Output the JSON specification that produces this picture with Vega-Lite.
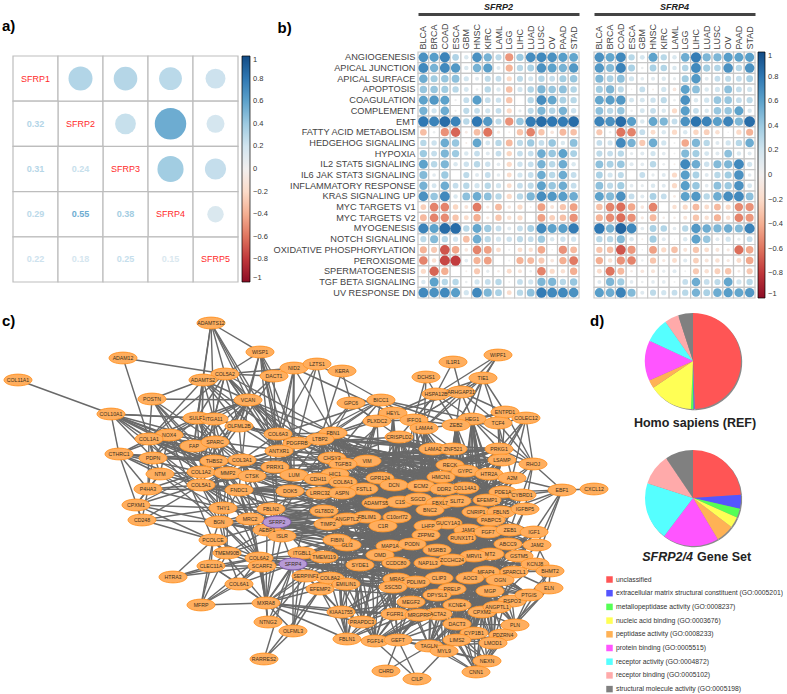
{"$schema":"https://vega.github.io/schema/vega-lite/v6.json","background":"white","padding":{"left":2,"top":3,"right":0,"bottom":0},"bounds":"flush","align":"none","columns":3,"spacing":{"row":13,"column":15},"resolve":{"scale":{"color":"independent","size":"independent"},"legend":{"color":"independent","size":"independent"}},"config":{"font":"Liberation Sans","view":{"stroke":null},"title":{"font":"Liberation Sans"}},
"datasets":{
"corr":[{"row":"SFRP1","col":"SFRP1","part":"diag"},{"row":"SFRP2","col":"SFRP2","part":"diag"},{"row":"SFRP3","col":"SFRP3","part":"diag"},{"row":"SFRP4","col":"SFRP4","part":"diag"},{"row":"SFRP5","col":"SFRP5","part":"diag"},
{"row":"SFRP1","col":"SFRP2","part":"upper","r":0.32},{"row":"SFRP1","col":"SFRP3","part":"upper","r":0.31},{"row":"SFRP1","col":"SFRP4","part":"upper","r":0.29},{"row":"SFRP1","col":"SFRP5","part":"upper","r":0.22},{"row":"SFRP2","col":"SFRP3","part":"upper","r":0.24},{"row":"SFRP2","col":"SFRP4","part":"upper","r":0.55},{"row":"SFRP2","col":"SFRP5","part":"upper","r":0.18},{"row":"SFRP3","col":"SFRP4","part":"upper","r":0.38},{"row":"SFRP3","col":"SFRP5","part":"upper","r":0.25},{"row":"SFRP4","col":"SFRP5","part":"upper","r":0.15},
{"row":"SFRP2","col":"SFRP1","part":"lower","r":0.32},{"row":"SFRP3","col":"SFRP1","part":"lower","r":0.31},{"row":"SFRP4","col":"SFRP1","part":"lower","r":0.29},{"row":"SFRP5","col":"SFRP1","part":"lower","r":0.22},{"row":"SFRP3","col":"SFRP2","part":"lower","r":0.24},{"row":"SFRP4","col":"SFRP2","part":"lower","r":0.55},{"row":"SFRP5","col":"SFRP2","part":"lower","r":0.18},{"row":"SFRP4","col":"SFRP3","part":"lower","r":0.38},{"row":"SFRP5","col":"SFRP3","part":"lower","r":0.25},{"row":"SFRP5","col":"SFRP4","part":"lower","r":0.15}],
"paths":[
{"gene":"SFRP2","p":"ANGIOGENESIS","BLCA":0.68,"BRCA":0.62,"COAD":0.75,"ESCA":0.33,"GBM":0.15,"HNSC":0.68,"KIRC":0.52,"LAML":0.28,"LGG":-0.48,"LIHC":0.4,"LUAD":0.7,"LUSC":0.72,"OV":0.68,"PAAD":0.62,"STAD":0.58},
{"gene":"SFRP2","p":"APICAL JUNCTION","BLCA":0.72,"BRCA":0.52,"COAD":0.72,"ESCA":0.65,"GBM":0.15,"HNSC":0.52,"KIRC":0.62,"LAML":0.12,"LGG":-0.38,"LIHC":0.3,"LUAD":0.35,"LUSC":0.68,"OV":0.6,"PAAD":0.52,"STAD":0.65},
{"gene":"SFRP2","p":"APICAL SURFACE","BLCA":0.55,"BRCA":0.38,"COAD":0.42,"ESCA":0.45,"GBM":0.2,"HNSC":0.12,"KIRC":0.28,"LAML":0.25,"LGG":-0.2,"LIHC":0.28,"LUAD":0.2,"LUSC":0.32,"OV":0.25,"PAAD":0.38,"STAD":0.42},
{"gene":"SFRP2","p":"APOPTOSIS","BLCA":0.42,"BRCA":0.42,"COAD":0.38,"ESCA":0.3,"GBM":0.18,"HNSC":0.05,"KIRC":0.3,"LAML":0.15,"LGG":-0.32,"LIHC":0.2,"LUAD":0.32,"LUSC":0.5,"OV":0.42,"PAAD":0.45,"STAD":0.32},
{"gene":"SFRP2","p":"COAGULATION","BLCA":0.6,"BRCA":0.65,"COAD":0.6,"ESCA":0.04,"GBM":0.25,"HNSC":0.62,"KIRC":0.25,"LAML":0.22,"LGG":-0.3,"LIHC":0,"LUAD":0.3,"LUSC":0.7,"OV":0.58,"PAAD":0.35,"STAD":0.3},
{"gene":"SFRP2","p":"COMPLEMENT","BLCA":0.52,"BRCA":0.2,"COAD":0.55,"ESCA":0.04,"GBM":0.28,"HNSC":0.25,"KIRC":0.2,"LAML":0.25,"LGG":-0.2,"LIHC":0.08,"LUAD":0.28,"LUSC":0.5,"OV":0.32,"PAAD":0.52,"STAD":0.22},
{"gene":"SFRP2","p":"EMT","BLCA":0.8,"BRCA":0.75,"COAD":0.85,"ESCA":0.75,"GBM":0.3,"HNSC":0.8,"KIRC":0.65,"LAML":0.28,"LGG":-0.5,"LIHC":0.42,"LUAD":0.78,"LUSC":0.85,"OV":0.8,"PAAD":0.78,"STAD":0.85},
{"gene":"SFRP2","p":"FATTY ACID METABOLISM","BLCA":-0.33,"BRCA":0.05,"COAD":-0.5,"ESCA":-0.65,"GBM":-0.06,"HNSC":-0.33,"KIRC":-0.6,"LAML":-0.08,"LGG":-0.03,"LIHC":-0.3,"LUAD":-0.55,"LUSC":-0.3,"OV":-0.1,"PAAD":-0.35,"STAD":-0.32},
{"gene":"SFRP2","p":"HEDGEHOG SIGNALING","BLCA":0.3,"BRCA":0.22,"COAD":0.55,"ESCA":0.42,"GBM":-0.03,"HNSC":0.58,"KIRC":0.18,"LAML":0.3,"LGG":-0.35,"LIHC":0.28,"LUAD":0.4,"LUSC":0.25,"OV":0.42,"PAAD":0.15,"STAD":0.45},
{"gene":"SFRP2","p":"HYPOXIA","BLCA":0.4,"BRCA":0.25,"COAD":0.5,"ESCA":0.4,"GBM":0.15,"HNSC":0.25,"KIRC":0.12,"LAML":0.25,"LGG":-0.22,"LIHC":0.25,"LUAD":0.25,"LUSC":0.55,"OV":0.42,"PAAD":0.6,"STAD":0.35},
{"gene":"SFRP2","p":"IL2 STAT5 SIGNALING","BLCA":0.6,"BRCA":0.3,"COAD":0.5,"ESCA":0.15,"GBM":0.22,"HNSC":0.3,"KIRC":0.22,"LAML":0.1,"LGG":-0.2,"LIHC":0.22,"LUAD":0.25,"LUSC":0.52,"OV":0.3,"PAAD":0.55,"STAD":0.15},
{"gene":"SFRP2","p":"IL6 JAK STAT3 SIGNALING","BLCA":0.48,"BRCA":0.1,"COAD":0.4,"ESCA":0,"GBM":0.28,"HNSC":0.12,"KIRC":0.25,"LAML":0.1,"LGG":-0.18,"LIHC":0.2,"LUAD":0.25,"LUSC":0.55,"OV":0.3,"PAAD":0.55,"STAD":0.25},
{"gene":"SFRP2","p":"INFLAMMATORY RESPONSE","BLCA":0.52,"BRCA":0.18,"COAD":0.55,"ESCA":0.25,"GBM":0.3,"HNSC":0.2,"KIRC":0.3,"LAML":0.2,"LGG":-0.18,"LIHC":0.25,"LUAD":0.28,"LUSC":0.6,"OV":0.42,"PAAD":0.55,"STAD":0.25},
{"gene":"SFRP2","p":"KRAS SIGNALING UP","BLCA":0.68,"BRCA":0.42,"COAD":0.72,"ESCA":0.15,"GBM":0.45,"HNSC":0.55,"KIRC":0.45,"LAML":0.3,"LGG":-0.2,"LIHC":0.3,"LUAD":0.5,"LUSC":0.7,"OV":0.65,"PAAD":0.62,"STAD":0.55},
{"gene":"SFRP2","p":"MYC TARGETS V1","BLCA":-0.25,"BRCA":-0.55,"COAD":-0.55,"ESCA":-0.22,"GBM":-0.12,"HNSC":-0.58,"KIRC":-0.08,"LAML":-0.35,"LGG":-0.1,"LIHC":-0.2,"LUAD":-0.03,"LUSC":-0.45,"OV":-0.12,"PAAD":-0.3,"STAD":-0.45},
{"gene":"SFRP2","p":"MYC TARGETS V2","BLCA":-0.35,"BRCA":-0.55,"COAD":-0.52,"ESCA":-0.3,"GBM":-0.18,"HNSC":-0.4,"KIRC":-0.08,"LAML":-0.3,"LGG":-0.15,"LIHC":-0.2,"LUAD":0,"LUSC":-0.45,"OV":-0.25,"PAAD":-0.32,"STAD":-0.5},
{"gene":"SFRP2","p":"MYOGENESIS","BLCA":0.75,"BRCA":0.6,"COAD":0.85,"ESCA":0.85,"GBM":0.3,"HNSC":0.58,"KIRC":0.4,"LAML":0.25,"LGG":0.12,"LIHC":0.25,"LUAD":0.35,"LUSC":0.72,"OV":0.6,"PAAD":0.62,"STAD":0.78},
{"gene":"SFRP2","p":"NOTCH SIGNALING","BLCA":0.28,"BRCA":0.48,"COAD":0.3,"ESCA":0.2,"GBM":-0.33,"HNSC":0.55,"KIRC":0.3,"LAML":0.2,"LGG":0.22,"LIHC":0.28,"LUAD":0.25,"LUSC":0.4,"OV":0.15,"PAAD":0.22,"STAD":0.2},
{"gene":"SFRP2","p":"OXIDATIVE PHOSPHORYLATION","BLCA":-0.38,"BRCA":-0.28,"COAD":-0.7,"ESCA":-0.42,"GBM":-0.1,"HNSC":-0.55,"KIRC":-0.45,"LAML":-0.18,"LGG":0.04,"LIHC":-0.18,"LUAD":-0.15,"LUSC":-0.42,"OV":-0.02,"PAAD":-0.5,"STAD":-0.35},
{"gene":"SFRP2","p":"PEROXISOME","BLCA":-0.55,"BRCA":-0.15,"COAD":-0.75,"ESCA":-0.78,"GBM":0.1,"HNSC":-0.38,"KIRC":-0.45,"LAML":0,"LGG":0.03,"LIHC":-0.38,"LUAD":-0.35,"LUSC":-0.28,"OV":-0.1,"PAAD":-0.4,"STAD":-0.58},
{"gene":"SFRP2","p":"SPERMATOGENESIS","BLCA":-0.2,"BRCA":-0.65,"COAD":-0.4,"ESCA":0,"GBM":-0.03,"HNSC":-0.28,"KIRC":0.08,"LAML":-0.05,"LGG":-0.18,"LIHC":-0.12,"LUAD":0.05,"LUSC":-0.55,"OV":-0.2,"PAAD":-0.15,"STAD":-0.4},
{"gene":"SFRP2","p":"TGF BETA SIGNALING","BLCA":0.15,"BRCA":0.6,"COAD":0.3,"ESCA":0.3,"GBM":0.05,"HNSC":0.2,"KIRC":0.25,"LAML":0.3,"LGG":0.03,"LIHC":0.25,"LUAD":0.2,"LUSC":0.5,"OV":0.5,"PAAD":0.3,"STAD":0.42},
{"gene":"SFRP2","p":"UV RESPONSE DN","BLCA":0.72,"BRCA":0.68,"COAD":0.72,"ESCA":0.62,"GBM":0.2,"HNSC":0.72,"KIRC":0.5,"LAML":0.35,"LGG":-0.18,"LIHC":0.3,"LUAD":0.45,"LUSC":0.78,"OV":0.72,"PAAD":0.72,"STAD":0.68},
{"gene":"SFRP4","p":"ANGIOGENESIS","BLCA":0.68,"BRCA":0.58,"COAD":0.72,"ESCA":0.3,"GBM":0.18,"HNSC":0.6,"KIRC":0.3,"LAML":0.15,"LGG":0.55,"LIHC":0.78,"LUAD":0.5,"LUSC":0.5,"OV":0.62,"PAAD":0.6,"STAD":0.62},
{"gene":"SFRP4","p":"APICAL JUNCTION","BLCA":0.65,"BRCA":0.48,"COAD":0.75,"ESCA":0.35,"GBM":0.05,"HNSC":0.35,"KIRC":0.32,"LAML":0.15,"LGG":0.32,"LIHC":0.72,"LUAD":0.38,"LUSC":0.32,"OV":0.68,"PAAD":0.3,"STAD":0.68},
{"gene":"SFRP4","p":"APICAL SURFACE","BLCA":0.5,"BRCA":0.35,"COAD":0.45,"ESCA":0.2,"GBM":0.1,"HNSC":0.12,"KIRC":0.15,"LAML":0.08,"LGG":0.38,"LIHC":0.65,"LUAD":0.12,"LUSC":0.25,"OV":0.28,"PAAD":0.25,"STAD":0.35},
{"gene":"SFRP4","p":"APOPTOSIS","BLCA":0.38,"BRCA":0.5,"COAD":0.28,"ESCA":0.02,"GBM":0.25,"HNSC":-0.03,"KIRC":0.2,"LAML":-0.1,"LGG":0.6,"LIHC":0.45,"LUAD":0.15,"LUSC":0.2,"OV":0.45,"PAAD":0.25,"STAD":0.2},
{"gene":"SFRP4","p":"COAGULATION","BLCA":0.58,"BRCA":0.62,"COAD":0.65,"ESCA":0.18,"GBM":0.18,"HNSC":0.22,"KIRC":0.28,"LAML":0.05,"LGG":0.68,"LIHC":0.15,"LUAD":0.2,"LUSC":0.42,"OV":0.42,"PAAD":0.25,"STAD":0.28},
{"gene":"SFRP4","p":"COMPLEMENT","BLCA":0.45,"BRCA":0.3,"COAD":0.42,"ESCA":0.05,"GBM":0.18,"HNSC":0.25,"KIRC":0.15,"LAML":-0.2,"LGG":0.62,"LIHC":0.25,"LUAD":0.15,"LUSC":0.42,"OV":0.42,"PAAD":0.6,"STAD":0.15},
{"gene":"SFRP4","p":"EMT","BLCA":0.75,"BRCA":0.68,"COAD":0.85,"ESCA":0.62,"GBM":0.15,"HNSC":0.58,"KIRC":0.5,"LAML":0.25,"LGG":0.68,"LIHC":0.82,"LUAD":0.75,"LUSC":0.62,"OV":0.75,"PAAD":0.5,"STAD":0.85},
{"gene":"SFRP4","p":"FATTY ACID METABOLISM","BLCA":-0.28,"BRCA":0.05,"COAD":-0.6,"ESCA":-0.55,"GBM":0.25,"HNSC":-0.18,"KIRC":0.15,"LAML":-0.2,"LGG":0.15,"LIHC":-0.22,"LUAD":-0.25,"LUSC":-0.15,"OV":0.02,"PAAD":-0.2,"STAD":-0.38},
{"gene":"SFRP4","p":"HEDGEHOG SIGNALING","BLCA":0.25,"BRCA":0.2,"COAD":0.72,"ESCA":0.52,"GBM":-0.28,"HNSC":0.55,"KIRC":0.2,"LAML":0.03,"LGG":-0.42,"LIHC":0.5,"LUAD":0.3,"LUSC":0.12,"OV":0.2,"PAAD":0.3,"STAD":0.55},
{"gene":"SFRP4","p":"HYPOXIA","BLCA":0.28,"BRCA":0.25,"COAD":0.3,"ESCA":0.08,"GBM":0.12,"HNSC":0.2,"KIRC":0.1,"LAML":0.03,"LGG":0.48,"LIHC":0.38,"LUAD":0.18,"LUSC":0.12,"OV":0.45,"PAAD":0.15,"STAD":0.12},
{"gene":"SFRP4","p":"IL2 STAT5 SIGNALING","BLCA":0.45,"BRCA":0.35,"COAD":0.42,"ESCA":0.12,"GBM":0.1,"HNSC":0.3,"KIRC":0.06,"LAML":-0.03,"LGG":0.72,"LIHC":0.55,"LUAD":0.22,"LUSC":0.48,"OV":0.5,"PAAD":0.72,"STAD":0.2},
{"gene":"SFRP4","p":"IL6 JAK STAT3 SIGNALING","BLCA":0.35,"BRCA":0.2,"COAD":0.28,"ESCA":0,"GBM":0.25,"HNSC":0.08,"KIRC":0.12,"LAML":-0.2,"LGG":0.62,"LIHC":0.35,"LUAD":0.12,"LUSC":0.3,"OV":0.38,"PAAD":0.68,"STAD":0.1},
{"gene":"SFRP4","p":"INFLAMMATORY RESPONSE","BLCA":0.45,"BRCA":0.28,"COAD":0.38,"ESCA":0.1,"GBM":0.08,"HNSC":0.15,"KIRC":0.12,"LAML":-0.2,"LGG":0.62,"LIHC":0.42,"LUAD":0.1,"LUSC":0.45,"OV":0.4,"PAAD":0.68,"STAD":0.18},
{"gene":"SFRP4","p":"KRAS SIGNALING UP","BLCA":0.6,"BRCA":0.48,"COAD":0.68,"ESCA":0.25,"GBM":0.12,"HNSC":0.35,"KIRC":0.25,"LAML":-0.06,"LGG":0.6,"LIHC":0.65,"LUAD":0.3,"LUSC":0.55,"OV":0.7,"PAAD":0.72,"STAD":0.45},
{"gene":"SFRP4","p":"MYC TARGETS V1","BLCA":-0.32,"BRCA":-0.55,"COAD":-0.62,"ESCA":-0.42,"GBM":-0.1,"HNSC":-0.55,"KIRC":0,"LAML":-0.15,"LGG":-0.2,"LIHC":-0.35,"LUAD":-0.18,"LUSC":-0.35,"OV":-0.2,"PAAD":-0.52,"STAD":-0.5},
{"gene":"SFRP4","p":"MYC TARGETS V2","BLCA":-0.38,"BRCA":-0.52,"COAD":-0.62,"ESCA":-0.5,"GBM":-0.08,"HNSC":-0.35,"KIRC":-0.05,"LAML":-0.05,"LGG":-0.12,"LIHC":-0.3,"LUAD":-0.15,"LUSC":-0.38,"OV":-0.15,"PAAD":-0.55,"STAD":-0.48},
{"gene":"SFRP4","p":"MYOGENESIS","BLCA":0.8,"BRCA":0.52,"COAD":0.88,"ESCA":0.72,"GBM":0.1,"HNSC":0.35,"KIRC":0.32,"LAML":0.1,"LGG":0.3,"LIHC":0.65,"LUAD":0.55,"LUSC":0.5,"OV":0.55,"PAAD":0.48,"STAD":0.75},
{"gene":"SFRP4","p":"NOTCH SIGNALING","BLCA":0.3,"BRCA":0.3,"COAD":0.48,"ESCA":0.15,"GBM":-0.03,"HNSC":0.38,"KIRC":0.12,"LAML":0.02,"LGG":0.15,"LIHC":0.6,"LUAD":0.42,"LUSC":0.12,"OV":0.2,"PAAD":0.08,"STAD":0.25},
{"gene":"SFRP4","p":"OXIDATIVE PHOSPHORYLATION","BLCA":-0.3,"BRCA":-0.32,"COAD":-0.7,"ESCA":-0.48,"GBM":0.02,"HNSC":-0.45,"KIRC":-0.2,"LAML":-0.32,"LGG":-0.12,"LIHC":-0.3,"LUAD":-0.18,"LUSC":-0.12,"OV":-0.08,"PAAD":-0.62,"STAD":-0.42},
{"gene":"SFRP4","p":"PEROXISOME","BLCA":-0.4,"BRCA":-0.15,"COAD":-0.5,"ESCA":-0.55,"GBM":0.05,"HNSC":-0.3,"KIRC":-0.08,"LAML":-0.18,"LGG":0.12,"LIHC":-0.25,"LUAD":-0.12,"LUSC":-0.15,"OV":-0.08,"PAAD":-0.18,"STAD":-0.42},
{"gene":"SFRP4","p":"SPERMATOGENESIS","BLCA":-0.18,"BRCA":-0.6,"COAD":-0.35,"ESCA":-0.05,"GBM":-0.1,"HNSC":-0.12,"KIRC":0.08,"LAML":0.12,"LGG":0.03,"LIHC":-0.28,"LUAD":-0.15,"LUSC":-0.25,"OV":-0.3,"PAAD":-0.06,"STAD":-0.28},
{"gene":"SFRP4","p":"TGF BETA SIGNALING","BLCA":0.12,"BRCA":0.5,"COAD":0.38,"ESCA":0.1,"GBM":0.05,"HNSC":0.1,"KIRC":0.1,"LAML":0.03,"LGG":0.25,"LIHC":0.55,"LUAD":0.25,"LUSC":0.28,"OV":0.58,"PAAD":0.2,"STAD":0.3},
{"gene":"SFRP4","p":"UV RESPONSE DN","BLCA":0.62,"BRCA":0.55,"COAD":0.75,"ESCA":0.48,"GBM":0.12,"HNSC":0.28,"KIRC":0.2,"LAML":0.25,"LGG":0.3,"LIHC":0.52,"LUAD":0.35,"LUSC":0.55,"OV":0.62,"PAAD":0.58,"STAD":0.65}],
"nodes":[{"id":"ADAMTS12","x":211,"y":322},{"id":"WISP1","x":260,"y":351},{"id":"ADAM12","x":123,"y":357},{"id":"COL11A1","x":18,"y":379},{"id":"COL5A2","x":225,"y":373},{"id":"NID2","x":294,"y":367},{"id":"DACT1","x":274,"y":375},{"id":"ADAMTS2","x":203,"y":379},{"id":"VCAN","x":248,"y":399},{"id":"POSTN","x":152,"y":398},{"id":"COL10A1","x":111,"y":413},{"id":"SULF1","x":197,"y":417},{"id":"ITGA11","x":214,"y":418},{"id":"OLFML2B","x":239,"y":425},{"id":"COL6A3","x":278,"y":433},{"id":"NOX4","x":169,"y":434},{"id":"COL1A1","x":149,"y":438},{"id":"FAP","x":194,"y":445},{"id":"SPARC","x":215,"y":441},{"id":"PDGFRB","x":297,"y":442},{"id":"ANTXR1","x":279,"y":450},{"id":"CTHRC1","x":119,"y":453},{"id":"PDPN","x":153,"y":457},{"id":"THBS2","x":214,"y":460},{"id":"COL3A1","x":242,"y":459},{"id":"PRRX1","x":275,"y":466},{"id":"NTM","x":160,"y":473},{"id":"COL1A2","x":201,"y":471},{"id":"MMP2","x":228,"y":472},{"id":"CTSK","x":252,"y":475},{"id":"LUM","x":294,"y":474},{"id":"COL5A1","x":201,"y":484},{"id":"P4HA3","x":148,"y":488},{"id":"FNDC1","x":239,"y":489},{"id":"DOK5","x":290,"y":490},{"id":"CPXM1","x":136,"y":504},{"id":"CD248","x":142,"y":519},{"id":"THY1","x":223,"y":507},{"id":"FBLN2","x":271,"y":508},{"id":"MRC2","x":250,"y":518},{"id":"BGN","x":219,"y":521},{"id":"AEBP1","x":267,"y":529},{"id":"ISLR","x":282,"y":535},{"id":"SFRP2","x":277,"y":521},{"id":"PCOLCE","x":213,"y":539},{"id":"TMEM90B","x":227,"y":552},{"id":"ITGBL1","x":302,"y":552},{"id":"COL6A2","x":259,"y":557},{"id":"SCARF2","x":262,"y":565},{"id":"CLEC11A","x":211,"y":565},{"id":"SFRP4","x":293,"y":563},{"id":"HTRA3","x":173,"y":576},{"id":"COL6A1","x":239,"y":583},{"id":"MXRA8","x":266,"y":602},{"id":"MFRP","x":201,"y":604},{"id":"NTNG2","x":268,"y":621},{"id":"OLFML3","x":293,"y":630},{"id":"RARRES2","x":264,"y":658},{"id":"IL1R1","x":453,"y":361},{"id":"WIPF1","x":498,"y":354},{"id":"LZTS1","x":317,"y":363},{"id":"KERA","x":342,"y":370},{"id":"DCHS1","x":426,"y":376},{"id":"TIE1","x":483,"y":377},{"id":"HSPA12B","x":436,"y":393},{"id":"ARHGAP31","x":461,"y":391},{"id":"GPC6","x":351,"y":402},{"id":"BICC1","x":381,"y":399},{"id":"HEYL","x":393,"y":412},{"id":"ENTPD1","x":505,"y":411},{"id":"COLEC12","x":526,"y":417},{"id":"PLXDC2","x":377,"y":420},{"id":"IFFO1","x":414,"y":419},{"id":"HEG1","x":472,"y":418},{"id":"TCF4","x":498,"y":422},{"id":"ZEB2","x":456,"y":424},{"id":"LAMA4","x":424,"y":427},{"id":"FBN1","x":333,"y":432},{"id":"CRISPLD2","x":399,"y":436},{"id":"LTBP2","x":320,"y":438},{"id":"LAMA2","x":433,"y":448},{"id":"ZNF521","x":453,"y":448},{"id":"PRKG1","x":499,"y":448},{"id":"CHSY3","x":332,"y":457},{"id":"LSAMP","x":502,"y":459},{"id":"VIM","x":367,"y":460},{"id":"RHOJ","x":533,"y":463},{"id":"TGFB3","x":343,"y":463},{"id":"RECK","x":450,"y":464},{"id":"GYPC","x":465,"y":470},{"id":"HTR2A","x":489,"y":473},{"id":"HIC1","x":335,"y":473},{"id":"CDH11","x":318,"y":478},{"id":"GPR124","x":380,"y":477},{"id":"HMCN1","x":441,"y":476},{"id":"A2M","x":512,"y":477},{"id":"COL8A1","x":343,"y":481},{"id":"EBF1","x":562,"y":489},{"id":"CXCL12","x":594,"y":488},{"id":"DCN","x":394,"y":484},{"id":"ECM2","x":421,"y":485},{"id":"COL14A1","x":465,"y":487},{"id":"DDR2","x":444,"y":488},{"id":"FSTL1","x":364,"y":488},{"id":"LRRC32","x":320,"y":492},{"id":"ASPN","x":342,"y":492},{"id":"PDE1A","x":503,"y":491},{"id":"CYBRD1","x":522,"y":494},{"id":"ADAMTS5","x":376,"y":502},{"id":"C1S","x":400,"y":501},{"id":"SGCD","x":418,"y":498},{"id":"FBXL7","x":440,"y":502},{"id":"SLIT2","x":457,"y":500},{"id":"BNC2","x":430,"y":509},{"id":"EFEMP1","x":487,"y":499},{"id":"GLT8D2","x":324,"y":510},{"id":"FBLIM1","x":367,"y":516},{"id":"ANGPTL2","x":347,"y":518},{"id":"C10orf72","x":397,"y":516},{"id":"CNRIP1","x":476,"y":511},{"id":"FBLN5","x":501,"y":511},{"id":"IGFBP5","x":525,"y":508},{"id":"PABPC5","x":491,"y":519},{"id":"TIMP2","x":328,"y":523},{"id":"C1R","x":383,"y":525},{"id":"GUCY1A3","x":448,"y":522},{"id":"LHFP","x":428,"y":525},{"id":"JAM3","x":468,"y":529},{"id":"FGF7","x":488,"y":531},{"id":"ZEB1","x":510,"y":529},{"id":"IGF1","x":534,"y":531},{"id":"ZFPM2","x":426,"y":534},{"id":"RUNX1T1","x":462,"y":537},{"id":"GLI3","x":347,"y":544},{"id":"FIBIN","x":337,"y":539},{"id":"ABCC9","x":508,"y":543},{"id":"JAM2","x":537,"y":544},{"id":"MAP1A","x":390,"y":545},{"id":"PODN","x":412,"y":543},{"id":"MSRB3","x":437,"y":549},{"id":"TMEM119","x":324,"y":556},{"id":"OMD","x":380,"y":554},{"id":"MT2","x":490,"y":553},{"id":"MRVI1","x":474,"y":555},{"id":"GSTM5","x":519,"y":555},{"id":"KCNJ8","x":535,"y":563},{"id":"ZCCHC24","x":452,"y":559},{"id":"NAP1L3","x":428,"y":562},{"id":"CCDC80","x":396,"y":562},{"id":"SYDE1","x":360,"y":564},{"id":"MFAP4","x":486,"y":571},{"id":"SPARCL1","x":514,"y":571},{"id":"BHMT2","x":550,"y":570},{"id":"SERPINF1","x":306,"y":575},{"id":"COL8A2","x":330,"y":577},{"id":"MRAS","x":397,"y":578},{"id":"CLIP3","x":439,"y":577},{"id":"AOC3","x":470,"y":577},{"id":"OGN","x":500,"y":579},{"id":"PDLIM3","x":416,"y":581},{"id":"EMILIN1","x":346,"y":583},{"id":"ELN","x":549,"y":587},{"id":"SSC5D","x":393,"y":586},{"id":"EFEMP2","x":320,"y":588},{"id":"PRELP","x":452,"y":588},{"id":"MGP","x":490,"y":590},{"id":"DPYSL3","x":437,"y":594},{"id":"RSPO3","x":512,"y":600},{"id":"PTGIS","x":529,"y":594},{"id":"MEGF2","x":411,"y":601},{"id":"KCNE4","x":457,"y":604},{"id":"CPXM2","x":482,"y":611},{"id":"ANGPTL1","x":497,"y":606},{"id":"KIAA1755","x":341,"y":611},{"id":"FGFR1","x":395,"y":613},{"id":"ACTA2","x":438,"y":613},{"id":"MRGPRF","x":419,"y":614},{"id":"PRAPDC3","x":362,"y":621},{"id":"DACT3","x":457,"y":623},{"id":"PLN","x":515,"y":624},{"id":"CYP1B1","x":474,"y":632},{"id":"PDZRN4","x":503,"y":634},{"id":"FBLN1","x":347,"y":638},{"id":"FGF14","x":375,"y":640},{"id":"GEFT","x":398,"y":639},{"id":"LIMS2","x":457,"y":639},{"id":"LMOD1","x":493,"y":642},{"id":"TAGLN","x":429,"y":645},{"id":"MYL9","x":444,"y":650},{"id":"NEXN","x":487,"y":660},{"id":"CNN1","x":476,"y":671},{"id":"CHRD","x":386,"y":670},{"id":"CILP","x":417,"y":678}],
"edges":[
{"s":"COL11A1","t":["COL10A1"]},
{"s":"COL10A1","t":["SULF1","ITGA11","FAP","NOX4","COL1A1","COL1A2","SPARC","THBS2","CTHRC1","COL5A1","PDPN","MMP2"]},
{"s":"ADAM12","t":["COL5A2","COL1A1"]},
{"s":"ADAMTS12","t":["COL5A2","WISP1","SULF1","ITGA11","VCAN","COL6A3","ADAMTS2","LUM"]},
{"s":"WISP1","t":["COL5A2","DACT1","VCAN","OLFML2B","COL6A3","ANTXR1","LUM","PDGFRB","SFRP2"]},
{"s":"COL5A2","t":["NID2","DACT1","ADAMTS2","VCAN","SULF1","ITGA11","COL1A1","COL6A3","LUM","FBN1","PDGFRB","OLFML2B","COL1A2","ANTXR1"]},
{"s":"NID2","t":["DACT1","COL6A3","LUM","FBN1","LAMA4","ANTXR1","DOK5"]},
{"s":"DACT1","t":["VCAN","OLFML2B","SFRP2"]},
{"s":"LZTS1","t":["BICC1","FBN1","PDGFRB","NID2","COL6A3"]},
{"s":"KERA","t":["GPC6","LTBP2"]},
{"s":"ADAMTS2","t":["POSTN","COL1A1","COL1A2","SULF1","ITGA11","VCAN","FAP","COL6A3","COL5A1","ANTXR1","OLFML2B"]},
{"s":"POSTN","t":["COL1A1","COL1A2","FAP","SPARC","VCAN","THBS2","COL5A1"]},
{"s":"VCAN","t":["SULF1","ITGA11","FAP","SPARC","OLFML2B","COL6A3","COL3A1","THBS2","FBN1","PDGFRB","LTBP2","NOX4","COL1A2","LUM","CHSY3"]},
{"s":"SULF1","t":["ITGA11","NOX4","FAP","SPARC","COL1A1","PDPN","THBS2","COL1A2","COL3A1","MMP2"]},
{"s":"NOX4","t":["COL1A1","FAP","CTHRC1","PDPN","NTM","COL1A2","SPARC","PCOLCE"]},
{"s":"COL1A1","t":["CTHRC1","P4HA3","PDPN","FAP","SPARC","COL1A2","COL3A1","THBS2","CTSK","MMP2","NTM","FNDC1","BGN"]},
{"s":"CTHRC1","t":["PDPN","NTM","P4HA3","THBS2","COL1A2","COL5A1","CD248","COL3A1"]},
{"s":"PDPN","t":["FAP","THBS2","P4HA3","COL5A1","COL3A1"]},
{"s":"NTM","t":["COL5A1","P4HA3","CPXM1","THY1","BGN","COL1A2"]},
{"s":"P4HA3","t":["COL5A1","CPXM1","CD248","COL1A2","FNDC1","THY1"]},
{"s":"CPXM1","t":["CD248","COL1A2","THY1","PCOLCE","COL5A1","BGN"]},
{"s":"CD248","t":["THY1","BGN","PCOLCE","COL5A1"]},
{"s":"HTRA3","t":["PCOLCE","CLEC11A","SCARF2","COL6A2"]},
{"s":"PCOLCE","t":["TMEM90B","CLEC11A","MXRA8","BGN","MFRP","SFRP2","COL6A2"]},
{"s":"CLEC11A","t":["MFRP","COL6A1","TMEM90B","SCARF2","COL6A2","MXRA8"]},
{"s":"MFRP","t":["COL6A1","MXRA8","TMEM90B","SCARF2","COL6A2"]},
{"s":"COL6A1","t":["MXRA8","SCARF2","COL6A2","TMEM90B","SFRP4"]},
{"s":"MXRA8","t":["SCARF2","COL6A2","NTNG2","SFRP4","ITGBL1","EFEMP2","SERPINF1","KIAA1755","FGFR1","FBLN1","PRAPDC3","TMEM119","OLFML3","COL8A2","ISLR","AEBP1","MRC2"]},
{"s":"NTNG2","t":["COL6A2","SCARF2","SFRP4","SERPINF1"]},
{"s":"RARRES2","t":["OLFML3","SFRP4","EFEMP2"]},
{"s":"OLFML3","t":["EFEMP2","SERPINF1","SFRP4","ITGBL1"]},
{"s":"KIAA1755","t":["FBLN1","PRAPDC3","EFEMP2","EMILIN1","SERPINF1","FGFR1","ACTA2"]},
{"s":"FBLN1","t":["PRAPDC3","EMILIN1","FGF14","EFEMP2","FGFR1"]},
{"s":"IL1R1","t":["HSPA12B","ARHGAP31"]},
{"s":"WIPF1","t":["TIE1","ARHGAP31","ZEB2","HSPA12B"]},
{"s":"DCHS1","t":["HSPA12B","LAMA4","IFFO1"]},
{"s":"TIE1","t":["HSPA12B","ARHGAP31","ENTPD1","HEG1","ZEB2","IFFO1","LAMA4","TCF4"]},
{"s":"HSPA12B","t":["ARHGAP31","IFFO1","ZEB2","HEG1","LAMA4","CRISPLD2","HEYL"]},
{"s":"ARHGAP31","t":["IFFO1","ZEB2","HEG1","TCF4","ENTPD1","LAMA4","HEYL"]},
{"s":"GPC6","t":["BICC1","FBN1","LTBP2","PLXDC2","CRISPLD2"]},
{"s":"BICC1","t":["HEYL","PLXDC2","FBN1","IFFO1","ZEB2","HEG1","LTBP2","PDGFRB","COL6A3","CHSY3","LAMA4"]},
{"s":"ENTPD1","t":["TCF4","COLEC12","HEG1","ZEB2","RHOJ","LSAMP"]},
{"s":"COLEC12","t":["TCF4","RHOJ","PRKG1","A2M","LSAMP","HTR2A"]},
{"s":"TCF4","t":["HEG1","ZEB2","PRKG1","LSAMP","RHOJ","A2M"]},
{"s":"RHOJ","t":["EBF1","LSAMP","A2M","PRKG1","CYBRD1","PDE1A","HEG1","IGFBP5"]},
{"s":"EBF1","t":["CXCL12","CYBRD1","PDE1A","IGFBP5","IGF1","A2M","FBLN5","JAM2","KCNJ8"]},
{"s":"CHRD","t":["GEFT","TAGLN"]},
{"s":"CILP","t":["GEFT","MYL9","FGF14"]},
{"s":"CNN1","t":["NEXN","MYL9","LIMS2","LMOD1","ACTA2","TAGLN","CYP1B1","PDZRN4","DACT3","KCNE4","MGP","MFAP4"]},
{"s":"NEXN","t":["LMOD1","PDZRN4","LIMS2","MYL9","TAGLN","ACTA2","PLN","CPXM2"]},
{"s":"BHMT2","t":["PTGIS","KCNJ8","ELN","JAM2","SPARCL1","MFAP4","PLN"]},
{"s":"ELN","t":["PTGIS","RSPO3","PLN","KCNJ8","SPARCL1","LMOD1"]},
{"s":"PLN","t":["PTGIS","RSPO3","ANGPTL1","PDZRN4","LMOD1","OGN","DACT3","CPXM2","MGP","AOC3"]},
{"s":"PRKG1","t":["COL3A1","CTSK","PRRX1","LTBP2","CHSY3","VIM","FSTL1","SFRP2","MRC2","FBLN2","ISLR","OMD","MAP1A","ACTA2","CNN1","PDLIM3","MSRB3"]},
{"s":"LSAMP","t":["COL3A1","MMP2","ANTXR1","FBN1","TGFB3","GLT8D2","TIMP2","COL8A2","SSC5D","FGFR1","MRGPRF","DACT3","TAGLN","KCNE4","FNDC1"]},
{"s":"HTR2A","t":["FNDC1","THY1","DOK5","LUM","HIC1","CDH11","ASPN","SERPINF1","EMILIN1","SYDE1","PRELP","DPYSL3","LIMS2","MYL9"]},
{"s":"A2M","t":["THBS2","SPARC","PDGFRB","COL6A3","COL8A1","FBLIM1","C1R","TMEM119","FIBIN","EFEMP2","PRAPDC3","GEFT","CYP1B1","MEGF2"]},
{"s":"PDE1A","t":["CTSK","PRRX1","MRC2","AEBP1","LRRC32","GPR124","C1S","MAP1A","CCDC80","MRAS","SSC5D","PDLIM3","ACTA2","LMOD1"]},
{"s":"CYBRD1","t":["MMP2","FBLN2","SFRP2","ISLR","ITGBL1","COL6A2","FIBIN","OMD","KIAA1755","FGFR1","CYP1B1","TAGLN","ZFPM2","BNC2"]},
{"s":"EFEMP1","t":["COL3A1","FNDC1","THY1","BGN","SFRP2","SFRP4","TMEM119","ANTXR1","FBN1","LAMA2","CRISPLD2","ZEB2","FGF14","MEGF2","CLIP3"]},
{"s":"IGFBP5","t":["THBS2","BGN","MRC2","AEBP1","ISLR","SCARF2","SFRP4","COL5A1","FNDC1","LTBP2","VIM","RECK","GYPC","CPXM2","LIMS2"]},
{"s":"FBLN5","t":["CTSK","DOK5","LUM","COL8A1","FSTL1","C1R","GLI3","SYDE1","PRAPDC3","MYL9","PRELP","TAGLN","HMCN1","HIC1"]},
{"s":"PABPC5","t":["COL6A3","PDGFRB","PRRX1","FBLN2","SCARF2","ITGBL1","COL8A2","EMILIN1","FBLN1","GEFT","DPYSL3","ZNF521","LAMA4"]},
{"s":"ZEB1","t":["THY1","COL5A1","MRC2","SFRP2","ISLR","TIMP2","ANGPTL2","FIBIN","SERPINF1","EFEMP2","MRAS","ACTA2","DACT3","HEG1","LAMA2"]},
{"s":"IGF1","t":["FNDC1","CTSK","LUM","HIC1","TMEM119","OMD","CCDC80","FGFR1","MRGPRF","KCNE4","CPXM2","ANGPTL1","ECM2"]},
{"s":"ABCC9","t":["COL3A1","BGN","AEBP1","COL6A2","ITGBL1","TIMP2","GLI3","SYDE1","KIAA1755","FGF14","CYP1B1","LIMS2","TGFB3","CHSY3","DCN"]},
{"s":"JAM2","t":["FBLN2","DOK5","SCARF2","SFRP4","COL8A2","SSC5D","PDLIM3","MYL9","ASPN","FSTL1","GPR124"]},
{"s":"GSTM5","t":["MMP2","PRRX1","ISLR","SFRP2","LRRC32","C1R","MAP1A","SERPINF1","MEGF2","DACT3","TAGLN","LMOD1","VIM"]},
{"s":"KCNJ8","t":["FNDC1","COL6A2","ITGBL1","EMILIN1","SYDE1","FGFR1","ACTA2","LIMS2","COL8A1","CDH11","ANTXR1"]},
{"s":"SPARCL1","t":["COL5A1","THBS2","MRC2","AEBP1","GLT8D2","ANGPTL2","FIBIN","MRAS","PRAPDC3","FBLN1","CLIP3","DPYSL3","LTBP2","FBN1"]},
{"s":"OGN","t":["COL3A1","THY1","BGN","SFRP2","SFRP4","FBLN2","TIMP2","TMEM119","EMILIN1","FGF14","MYL9","GEFT","HIC1","LUM","DOK5"]},
{"s":"MGP","t":["CTSK","COL6A2","ISLR","SCARF2","COL8A2","C10orf72","ADAMTS5","KIAA1755","FGFR1","TAGLN","LRRC32","CRISPLD2","GPR124"]},
{"s":"PTGIS","t":["LTBP2","CDH11","CHSY3","GLT8D2","SYDE1","OMD","MRGPRF","PDLIM3","ACTA2","ZFPM2"]},
{"s":"RSPO3","t":["FBN1","TGFB3","FSTL1","COL8A1","DCN","ECM2","SFRP2","SFRP4","EFEMP2","GEFT","MEGF2"]},
{"s":"ANGPTL1","t":["VIM","ASPN","HIC1","DOK5","PDGFRB","AEBP1","ITGBL1","SERPINF1","COL8A2","SSC5D","MRAS"]},
{"s":"FBN1","t":["LTBP2","CHSY3","COL6A3","PDGFRB","LAMA2","FSTL1","DCN","ASPN","COL8A1","SFRP2","SFRP4","MSRB3","OMD","FGF7","MFAP4","EMILIN1","PRAPDC3","DACT3","FGFR1"]},
{"s":"LTBP2","t":["COL3A1","CTSK","TGFB3","LUM","CDH11","PRRX1","FIBIN","SYDE1","FBLN1","FGF14","GEFT","MRGPRF","LIMS2","LAMA2","ZNF521","PRKG1","RECK","HTR2A","A2M","PDE1A","EFEMP1","CYBRD1","DDR2"]},
{"s":"CHSY3","t":["LUM","TIMP2","GLI3","OMD","CCDC80","MRAS","KIAA1755","PRAPDC3","ACTA2","KCNE4","RECK","GYPC","HTR2A","LAMA2","ZNF521","PDE1A","COL14A1","HMCN1","DDR2"]},
{"s":"TGFB3","t":["VIM","HIC1","FBLN2","GLT8D2","EMILIN1","SSC5D","FGFR1","MEGF2","TAGLN","DACT3"]},
{"s":"VIM","t":["CDH11","GPR124","DCN","C1R","MAP1A","PDLIM3","FGF14","MYL9","LIMS2","CYP1B1","NAP1L3"]},
{"s":"CRISPLD2","t":["PDGFRB","LUM","ECM2","C1S","FSTL1","OMD","SYDE1","FGFR1","FBLN1","ACTA2","PRELP","CPXM2","RECK","ZNF521","GYPC","HTR2A","COL14A1","PDE1A","CYBRD1"]},
{"s":"HEYL","t":["PLXDC2","IFFO1","FBN1","DCN","CDH11","C1R","CCDC80","SSC5D","MEGF2"]},
{"s":"PLXDC2","t":["LTBP2","IFFO1","VIM","GPR124","ASPN","FIBIN","TMEM119"]},
{"s":"IFFO1","t":["LAMA4","ZEB2","RECK","HMCN1","DDR2","C10orf72","MSRB3","PODN","CLIP3","PRELP"]},
{"s":"LAMA4","t":["ZEB2","LAMA2","ZNF521","DCN","ECM2","SGCD","FBXL7","LHFP","ZFPM2","NAP1L3","AOC3","KCNE4"]},
{"s":"ZEB2","t":["HEG1","ZNF521","GYPC","RECK","COL14A1","SLIT2","CNRIP1","JAM3","RUNX1T1","ZCCHC24","DPYSL3","CLIP3"]},
{"s":"HEG1","t":["HTR2A","PRKG1","GYPC","EFEMP1","COL14A1","JAM3","FGF7","MRVI1","MFAP4","OGN","MGP"]},
{"s":"LAMA2","t":["DDR2","HMCN1","GPR124","C1R","LHFP","PODN","SSC5D","FGF14","GEFT","TAGLN"]},
{"s":"ZNF521","t":["RECK","BNC2","SLIT2","GUCY1A3","ZFPM2","NAP1L3","PDLIM3","MRGPRF","MYL9"]},
{"s":"RECK","t":["HMCN1","C1S","SGCD","FSTL1","MAP1A","OMD","CCDC80","FGFR1","ACTA2"]},
{"s":"GYPC","t":["DDR2","COL14A1","FBXL7","CNRIP1","MT2","AOC3","PRELP","DACT3","LIMS2"]},
{"s":"HMCN1","t":["DCN","ECM2","C10orf72","LHFP","MSRB3","ZCCHC24","CLIP3","KCNE4","CYP1B1"]},
{"s":"COL14A1","t":["ECM2","DCN","C1R","JAM3","RUNX1T1","MRVI1","MFAP4","MGP","CPXM2","LMOD1"]},
{"s":"GPR124","t":["DCN","FSTL1","ADAMTS5","FIBIN","MAP1A","PODN","MRAS","EMILIN1","FBLN1"]},
{"s":"COL8A1","t":["HIC1","CDH11","ASPN","FBLIM1","ANGPTL2","GLI3","COL8A2","SSC5D","KIAA1755"]},
{"s":"SFRP2","t":["SFRP4","AEBP1","ISLR","MRC2","FBLN2","LUM","ASPN","DCN","C1R","GLT8D2","TIMP2","COL8A2","MSRB3","OMD","MXRA8"]},
{"s":"SFRP4","t":["ITGBL1","SCARF2","COL6A2","TMEM119","SERPINF1","EFEMP2","EMILIN1","COL8A2","FIBIN","OMD","MFAP4","AOC3","MGP","SYDE1"]},
{"s":"COL3A1","t":["THBS2","MMP2","CTSK","PRRX1","ANTXR1","COL6A3","DOK5","FNDC1","COL5A1","FBLN2","AEBP1","COL6A2","ISLR"]},
{"s":"THBS2","t":["FAP","COL1A2","MMP2","COL5A1","FNDC1","BGN","MRC2","THY1","PRRX1","LUM","SCARF2","TMEM90B"]},
{"s":"COL5A1","t":["MMP2","CTSK","FNDC1","THY1","BGN","MRC2","PRRX1","DOK5","AEBP1","COL6A2","SFRP2"]},
{"s":"MMP2","t":["COL1A2","CTSK","ANTXR1","FNDC1","DOK5","THY1","ISLR","TMEM90B"]},
{"s":"FNDC1","t":["DOK5","PRRX1","FBLN2","MRC2","BGN","AEBP1","LRRC32","COL6A2","SCARF2"]},
{"s":"BGN","t":["THY1","MRC2","AEBP1","TMEM90B","COL6A2","SCARF2","ISLR","FBLN2"]},
{"s":"TMEM90B","t":["COL6A2","SCARF2","ISLR","AEBP1","SFRP4"]},
{"s":"COL6A3","t":["PDGFRB","ANTXR1","PRRX1","LUM","DOK5","CDH11","OLFML2B"]},
{"s":"OLFML2B","t":["ITGA11","SPARC","COL3A1","ANTXR1","PDGFRB","LTBP2","THBS2"]},
{"s":"ITGA11","t":["SPARC","FAP","THBS2","COL3A1","COL1A2","MMP2","CTSK","COL6A3"]},
{"s":"SPARC","t":["FAP","COL1A2","COL3A1","THBS2","MMP2","CTSK","PRRX1"]},
{"s":"TMEM119","t":["ITGBL1","COL8A2","SERPINF1","FIBIN","TIMP2","ANGPTL2","EFEMP2","EMILIN1","PRAPDC3","FBLN1"]},
{"s":"FGF14","t":["GEFT","PRAPDC3","MRGPRF","ACTA2","KCNE4","FGFR1","EMILIN1","SSC5D"]},
{"s":"GEFT","t":["FGFR1","TAGLN","MYL9","LIMS2","MEGF2","DPYSL3"]},
{"s":"TAGLN","t":["MYL9","LIMS2","ACTA2","DACT3","CYP1B1","LMOD1","PDZRN4"]},
{"s":"LMOD1","t":["LIMS2","CYP1B1","PDZRN4","ANGPTL1","DACT3","CPXM2","MGP","MFAP4"]},
{"s":"CPXM2","t":["RSPO3","MRVI1","AOC3","FGF7","PRELP","KCNE4"]},
{"s":"DCN","t":["MSRB3","PODN","CLIP3","AOC3","OGN","MFAP4","MT2","ZCCHC24","PRELP","KCNE4","CPXM2","FGF7","JAM3","ECM2","SLIT2"]},
{"s":"ECM2","t":["CCDC80","MAP1A","NAP1L3","MSRB3","RUNX1T1","FGF7","SPARCL1","MGP","DPYSL3","ACTA2","PDLIM3","DACT3"]},
{"s":"C1S","t":["C1R","LHFP","GUCY1A3","JAM3","ABCC9","MT2","GSTM5","AOC3","KCNE4","CLIP3","ZCCHC24","PTGIS","MEGF2"]},
{"s":"SGCD","t":["BNC2","C10orf72","ZFPM2","PODN","MRVI1","OGN","SPARCL1","PRELP","ACTA2","MRGPRF","CYP1B1","NEXN"]},
{"s":"FBXL7","t":["SLIT2","CNRIP1","LHFP","MSRB3","NAP1L3","MFAP4","RSPO3","DPYSL3","DACT3","TAGLN","MAP1A","OMD","C1R"]},
{"s":"SLIT2","t":["BNC2","GUCY1A3","FGF7","ZEB1","ABCC9","MT2","CLIP3","ZCCHC24","AOC3","LIMS2","PDZRN4","CCDC80"]},
{"s":"BNC2","t":["C1R","LHFP","ZFPM2","RUNX1T1","MRVI1","SSC5D","MGP","PDLIM3","KCNE4","LMOD1","MYL9"]},
{"s":"CNRIP1","t":["JAM3","FGF7","PABPC5","ABCC9","OGN","MT2","AOC3","DPYSL3","PRELP","CYP1B1","CPXM2"]},
{"s":"GUCY1A3","t":["LHFP","JAM3","ZFPM2","MSRB3","PODN","CLIP3","PDLIM3","MRAS","MRGPRF","KCNE4","DACT3","PLN"]},
{"s":"LHFP","t":["C10orf72","ZFPM2","MAP1A","PODN","NAP1L3","DPYSL3","MEGF2","FGFR1","ACTA2","LIMS2","CCDC80"]},
{"s":"C1R","t":["C10orf72","FBLIM1","PODN","MAP1A","OMD","SYDE1","SSC5D","MRAS","PDLIM3","FGFR1","PRAPDC3","MRGPRF"]},
{"s":"FGF7","t":["JAM3","ZEB1","RUNX1T1","MRVI1","ZCCHC24","AOC3","MFAP4","KCNE4","DACT3","CYP1B1","ACTA2"]},
{"s":"RUNX1T1","t":["ZFPM2","MSRB3","ZCCHC24","MRVI1","CLIP3","MGP","PRELP","PDLIM3","LIMS2","TAGLN","CCDC80"]},
{"s":"MSRB3","t":["PODN","MAP1A","NAP1L3","CLIP3","AOC3","OGN","PRELP","MRGPRF","ACTA2","DACT3","FGFR1","SSC5D"]},
{"s":"MRVI1","t":["ZCCHC24","MT2","MFAP4","AOC3","CLIP3","KCNE4","CYP1B1","LMOD1","ACTA2","MGP","PTGIS"]},
{"s":"MAP1A","t":["OMD","PODN","CCDC80","MRAS","SYDE1","PDLIM3","MEGF2","FGFR1","KCNE4","GEFT","TAGLN"]},
{"s":"OMD","t":["SYDE1","CCDC80","SSC5D","EMILIN1","MRAS","PDLIM3","FGFR1","PRAPDC3","FGF14","MEGF2","DPYSL3"]},
{"s":"CCDC80","t":["NAP1L3","MRAS","SSC5D","PDLIM3","CLIP3","DPYSL3","MEGF2","MRGPRF","ACTA2","KCNE4"]},
{"s":"NAP1L3","t":["ZCCHC24","CLIP3","PDLIM3","PRELP","DPYSL3","KCNE4","ACTA2","DACT3","MRGPRF","LIMS2"]},
{"s":"AOC3","t":["CLIP3","MFAP4","OGN","MGP","PRELP","DPYSL3","KCNE4","ACTA2","DACT3","CYP1B1"]},
{"s":"MFAP4","t":["OGN","MGP","SPARCL1","PRELP","KCNE4","ANGPTL1","CYP1B1","DACT3","LIMS2","RSPO3"]},
{"s":"CLIP3","t":["ZCCHC24","PDLIM3","PRELP","DPYSL3","MRAS","SSC5D","MEGF2","KCNE4","ACTA2","MRGPRF"]},
{"s":"SYDE1","t":["FIBIN","GLI3","EMILIN1","SSC5D","MRAS","COL8A2","PRAPDC3","FGFR1","FGF14","KIAA1755"]},
{"s":"SSC5D","t":["MRAS","PDLIM3","EMILIN1","MEGF2","FGFR1","MRGPRF","DPYSL3","ACTA2","PRAPDC3"]},
{"s":"GLI3","t":["FIBIN","TIMP2","ANGPTL2","FBLIM1","COL8A2","EMILIN1","SSC5D","PRAPDC3"]},
{"s":"FBLIM1","t":["ANGPTL2","FSTL1","ASPN","C10orf72","GLT8D2","TIMP2","ADAMTS5","C1S","SGCD","DCN"]},
{"s":"ADAMTS5","t":["C1S","SGCD","FBXL7","BNC2","C10orf72","FGF7","JAM3","RUNX1T1","MSRB3","ZFPM2","NAP1L3","OGN"]},
{"s":"FSTL1","t":["ASPN","DCN","C1S","SGCD","BNC2","CNRIP1","FBLN5","LHFP","JAM3","MFAP4","SPARCL1","MGP"]}],
"pie":[{"set":"Homo sapiens (REF)","cat":"unclassified","rank":1,"deg":178},{"set":"Homo sapiens (REF)","cat":"extracellular matrix structural constituent (GO:0005201)","rank":2,"deg":1.5},{"set":"Homo sapiens (REF)","cat":"metallopeptidase activity (GO:0008237)","rank":3,"deg":3},{"set":"Homo sapiens (REF)","cat":"nucleic acid binding (GO:0003676)","rank":4,"deg":53.5},{"set":"Homo sapiens (REF)","cat":"peptidase activity (GO:0008233)","rank":5,"deg":10},{"set":"Homo sapiens (REF)","cat":"protein binding (GO:0005515)","rank":6,"deg":49},{"set":"Homo sapiens (REF)","cat":"receptor activity (GO:0004872)","rank":7,"deg":30},{"set":"Homo sapiens (REF)","cat":"receptor binding (GO:0005102)","rank":8,"deg":17},{"set":"Homo sapiens (REF)","cat":"structural molecule activity (GO:0005198)","rank":9,"deg":18},
{"set":"SFRP2/4 Gene Set","cat":"unclassified","rank":1,"deg":86},{"set":"SFRP2/4 Gene Set","cat":"extracellular matrix structural constituent (GO:0005201)","rank":2,"deg":17},{"set":"SFRP2/4 Gene Set","cat":"metallopeptidase activity (GO:0008237)","rank":3,"deg":11},{"set":"SFRP2/4 Gene Set","cat":"nucleic acid binding (GO:0003676)","rank":4,"deg":13},{"set":"SFRP2/4 Gene Set","cat":"peptidase activity (GO:0008233)","rank":5,"deg":22},{"set":"SFRP2/4 Gene Set","cat":"protein binding (GO:0005515)","rank":6,"deg":68},{"set":"SFRP2/4 Gene Set","cat":"receptor activity (GO:0004872)","rank":7,"deg":71},{"set":"SFRP2/4 Gene Set","cat":"receptor binding (GO:0005102)","rank":8,"deg":38},{"set":"SFRP2/4 Gene Set","cat":"structural molecule activity (GO:0005198)","rank":9,"deg":34}]
},
"concat":[
{"width":390,"height":246,"title":{"text":"a)","anchor":"start","frame":"group","dx":-11,"offset":18,"fontSize":15,"fontWeight":"bold","color":"black"},"data":{"name":"corr"},
"encoding":{"x":{"field":"col","type":"nominal","axis":null,"scale":{"type":"band","domain":["SFRP1","SFRP2","SFRP3","SFRP4","SFRP5"],"range":[0,225],"paddingInner":0,"paddingOuter":0}},"y":{"field":"row","type":"nominal","axis":null,"scale":{"type":"band","domain":["SFRP1","SFRP2","SFRP3","SFRP4","SFRP5"],"range":[4,230],"paddingInner":0,"paddingOuter":0}}},
"layer":[
{"mark":{"type":"rect","fill":"white","stroke":"#bdbdbd","strokeWidth":1.2}},
{"transform":[{"filter":"datum.part==='upper'"}],"mark":{"type":"circle","opacity":1},"encoding":{"size":{"field":"r","type":"quantitative","legend":null,"scale":{"domain":[0,1],"range":[0,1800]}},"color":{"field":"r","type":"quantitative","scale":{"scheme":"redblue","domain":[-1,1]},"legend":{"type":"gradient","title":null,"orient":"none","legendX":229,"legendY":4,"gradientLength":226,"gradientThickness":8,"gradientStrokeColor":"black","gradientStrokeWidth":0.7,"values":[-1,-0.8,-0.6,-0.4,-0.2,0,0.2,0.4,0.6,0.8,1],"format":".1~f","labelFontSize":7.5,"labelColor":"#333","labelOffset":3,"labelOverlap":false,"padding":0}}}},
{"transform":[{"filter":"datum.part==='lower'"}],"mark":{"type":"text","fontSize":9,"fontWeight":"bold"},"encoding":{"text":{"field":"r","type":"quantitative","format":".2f"},"color":{"field":"r","type":"quantitative","scale":{"scheme":"redblue","domain":[-1,1]}}}},
{"transform":[{"filter":"datum.part==='diag'"}],"mark":{"type":"text","fontSize":9,"color":"#ff2a2a"},"encoding":{"text":{"field":"col","type":"nominal"}}}
]},
{"width":161,"height":246,"title":{"text":"SFRP2","anchor":"middle","fontSize":9,"fontStyle":"italic","fontWeight":"bold","color":"#222","offset":2},"data":{"name":"paths"},
"transform":[{"filter":"datum.gene==='SFRP2'"},{"fold":["BLCA","BRCA","COAD","ESCA","GBM","HNSC","KIRC","LAML","LGG","LIHC","LUAD","LUSC","OV","PAAD","STAD"],"as":["cancer","r"]}],
"encoding":{"x":{"field":"cancer","type":"nominal","scale":{"type":"band","domain":["BLCA","BRCA","COAD","ESCA","GBM","HNSC","KIRC","LAML","LGG","LIHC","LUAD","LUSC","OV","PAAD","STAD"],"paddingInner":0,"paddingOuter":0},"axis":{"orient":"top","title":null,"offset":38,"domainWidth":3,"domainColor":"#444","ticks":false,"labelPadding":-35,"labelAngle":-90,"labelAlign":"left","labelBaseline":"middle","labelFontSize":9,"labelColor":"#444"}},
"y":{"field":"p","type":"nominal","scale":{"type":"band","domain":["ANGIOGENESIS","APICAL JUNCTION","APICAL SURFACE","APOPTOSIS","COAGULATION","COMPLEMENT","EMT","FATTY ACID METABOLISM","HEDGEHOG SIGNALING","HYPOXIA","IL2 STAT5 SIGNALING","IL6 JAK STAT3 SIGNALING","INFLAMMATORY RESPONSE","KRAS SIGNALING UP","MYC TARGETS V1","MYC TARGETS V2","MYOGENESIS","NOTCH SIGNALING","OXIDATIVE PHOSPHORYLATION","PEROXISOME","SPERMATOGENESIS","TGF BETA SIGNALING","UV RESPONSE DN"],"paddingInner":0,"paddingOuter":0},"axis":{"title":"b)","titleAngle":0,"titleX":-141,"titleY":-17,"titleAlign":"left","titleFontSize":15,"titleFontWeight":"bold","titleColor":"black","domain":false,"ticks":false,"labelFontSize":9.2,"labelColor":"#444","labelPadding":3,"labelLimit":300}}},
"layer":[{"mark":{"type":"rect","fill":"white","stroke":"#c8c8c8","strokeWidth":1.2}},
{"mark":{"type":"circle","opacity":1},"encoding":{"size":{"field":"r","type":"quantitative","legend":null,"scale":{"type":"linear","domain":[-1,0,1],"range":[135,0,135]}},"color":{"field":"r","type":"quantitative","legend":null,"scale":{"scheme":"redblue","domain":[-1,1]}}}}]},
{"width":161,"height":246,"title":{"text":"SFRP4","anchor":"middle","fontSize":9,"fontStyle":"italic","fontWeight":"bold","color":"#222","offset":2},"data":{"name":"paths"},
"transform":[{"filter":"datum.gene==='SFRP4'"},{"fold":["BLCA","BRCA","COAD","ESCA","GBM","HNSC","KIRC","LAML","LGG","LIHC","LUAD","LUSC","OV","PAAD","STAD"],"as":["cancer","r"]}],
"encoding":{"x":{"field":"cancer","type":"nominal","scale":{"type":"band","domain":["BLCA","BRCA","COAD","ESCA","GBM","HNSC","KIRC","LAML","LGG","LIHC","LUAD","LUSC","OV","PAAD","STAD"],"paddingInner":0,"paddingOuter":0},"axis":{"orient":"top","title":null,"offset":38,"domainWidth":3,"domainColor":"#444","ticks":false,"labelPadding":-35,"labelAngle":-90,"labelAlign":"left","labelBaseline":"middle","labelFontSize":9,"labelColor":"#444"}},
"y":{"field":"p","type":"nominal","axis":null,"scale":{"type":"band","domain":["ANGIOGENESIS","APICAL JUNCTION","APICAL SURFACE","APOPTOSIS","COAGULATION","COMPLEMENT","EMT","FATTY ACID METABOLISM","HEDGEHOG SIGNALING","HYPOXIA","IL2 STAT5 SIGNALING","IL6 JAK STAT3 SIGNALING","INFLAMMATORY RESPONSE","KRAS SIGNALING UP","MYC TARGETS V1","MYC TARGETS V2","MYOGENESIS","NOTCH SIGNALING","OXIDATIVE PHOSPHORYLATION","PEROXISOME","SPERMATOGENESIS","TGF BETA SIGNALING","UV RESPONSE DN"],"paddingInner":0,"paddingOuter":0}}},
"layer":[{"mark":{"type":"rect","fill":"white","stroke":"#c8c8c8","strokeWidth":1.2}},
{"mark":{"type":"circle","opacity":1},"encoding":{"size":{"field":"r","type":"quantitative","legend":null,"scale":{"type":"linear","domain":[-1,0,1],"range":[135,0,135]}},"color":{"field":"r","type":"quantitative","scale":{"scheme":"redblue","domain":[-1,1]},"legend":{"type":"gradient","title":null,"orient":"right","offset":3,"padding":0,"gradientLength":246,"gradientThickness":7,"gradientStrokeColor":"black","gradientStrokeWidth":0.7,"values":[-1,-0.8,-0.6,-0.4,-0.2,0,0.2,0.4,0.6,0.8,1],"format":".1~f","labelFontSize":7.5,"labelColor":"#333","labelOffset":3,"labelOverlap":false}}}}]},
{"width":390,"height":384,"title":{"text":"c)","anchor":"start","frame":"group","dx":-11,"dy":18,"offset":0,"fontSize":15,"fontWeight":"bold","color":"black"},
"layer":[
{"data":{"name":"edges"},"transform":[{"flatten":["t"]},{"lookup":"s","from":{"data":{"name":"nodes"},"key":"id","fields":["x","y"]},"as":["x1","y1"]},{"lookup":"t","from":{"data":{"name":"nodes"},"key":"id","fields":["x","y"]},"as":["x2","y2"]}],
"mark":{"type":"rule","stroke":"#696969","strokeWidth":1.4},
"encoding":{"x":{"field":"x1","type":"quantitative","axis":null,"scale":{"domain":[13,587],"range":[0,574],"nice":false,"zero":false}},"x2":{"field":"x2"},"y":{"field":"y1","type":"quantitative","axis":null,"scale":{"domain":[694,310],"nice":false,"zero":false}},"y2":{"field":"y2"}}},
{"data":{"name":"nodes"},"encoding":{"x":{"field":"x","type":"quantitative","axis":null,"scale":{"domain":[13,587],"range":[0,574],"nice":false,"zero":false}},"y":{"field":"y","type":"quantitative","axis":null,"scale":{"domain":[694,310],"nice":false,"zero":false}}},
"layer":[{"mark":{"type":"point","filled":true,"shape":"M-1,0A1,0.42,0,1,1,1,0A1,0.42,0,1,1,-1,0Z","size":784,"opacity":1,"strokeWidth":0.9},
"encoding":{"color":{"condition":{"test":"datum.id==='SFRP2'||datum.id==='SFRP4'","value":"#B79AD6"},"value":"#FFAE5E"},"stroke":{"condition":{"test":"datum.id==='SFRP2'||datum.id==='SFRP4'","value":"#7E57B0"},"value":"#FF9326"}}},
{"mark":{"type":"text","fontSize":5.2,"color":"#3a3020"},"encoding":{"text":{"field":"id","type":"nominal"}}}]}
]},
{"width":161,"height":384,"title":{"text":"d)","anchor":"start","frame":"group","dx":172,"dy":18,"offset":0,"fontSize":15,"fontWeight":"bold","color":"black"},
"encoding":{"x":{"field":"set","type":"nominal","axis":null,"scale":{"type":"point","domain":["Homo sapiens (REF)","SFRP2/4 Gene Set"],"range":[275,275],"padding":0}},"y":{"field":"set","type":"nominal","axis":null,"scale":{"type":"point","domain":["Homo sapiens (REF)","SFRP2/4 Gene Set"],"range":[50,187],"padding":0}}},
"layer":[
{"data":{"name":"pie"},"transform":[{"stack":"deg","groupby":["set"],"sort":[{"field":"rank","order":"ascending"}],"as":["start","end"]}],
"encoding":{"theta":{"field":"start","type":"quantitative","scale":{"domain":[0,360],"range":[0,6.28318]}},"theta2":{"field":"end"}},
"layer":[{"mark":{"type":"arc","outerRadius":48,"color":"#8a8a8a","xOffset":1.2,"yOffset":1.2}},
{"mark":{"type":"arc","outerRadius":48},"encoding":{"color":{"field":"cat","type":"nominal","scale":{"domain":["unclassified","extracellular matrix structural constituent (GO:0005201)","metallopeptidase activity (GO:0008237)","nucleic acid binding (GO:0003676)","peptidase activity (GO:0008233)","protein binding (GO:0005515)","receptor activity (GO:0004872)","receptor binding (GO:0005102)","structural molecule activity (GO:0005198)"],"range":["#FF5555","#5555FF","#55FF55","#FFFF55","#FFB255","#FF55FF","#55FFFF","#FFAAAA","#808080"]},"legend":{"title":null,"orient":"none","legendX":188,"legendY":265,"symbolType":"square","symbolSize":42,"symbolStrokeWidth":0,"labelFontSize":6.8,"labelColor":"#333","labelLimit":300,"labelOffset":3,"rowPadding":5.7,"padding":0}}}}]},
{"data":{"values":[{"set":"Homo sapiens (REF)"}]},"mark":{"type":"text","text":"Homo sapiens (REF)","fontSize":12.5,"fontWeight":"bold","color":"#222","yOffset":62,"xOffset":2}},
{"data":{"values":[{"set":"SFRP2/4 Gene Set"}]},"mark":{"type":"text","text":"SFRP2/4","align":"right","fontSize":12.5,"fontWeight":"bold","fontStyle":"italic","color":"#222","yOffset":59}},
{"data":{"values":[{"set":"SFRP2/4 Gene Set"}]},"mark":{"type":"text","text":"Gene Set","align":"left","fontSize":12.5,"fontWeight":"bold","color":"#222","yOffset":59,"xOffset":4}}
]}
]}
